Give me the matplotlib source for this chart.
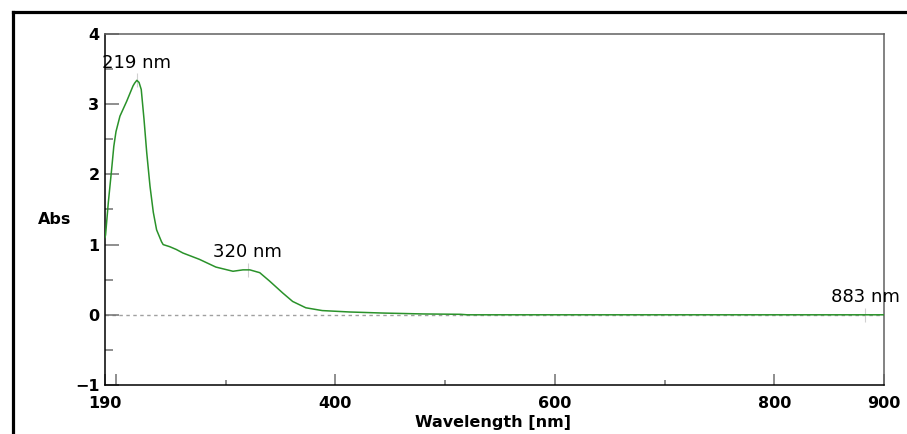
import matplotlib
matplotlib.use('Agg')
import matplotlib.pyplot as plt
from matplotlib.lines import Line2D

wavelength = [190, 190.5, 193, 196, 198, 200, 203.6, 209.7, 215.5, 217, 219, 221, 223,
              225.5, 228, 231, 234, 237, 241.5, 243, 249, 255, 261, 276, 291, 306.6,
              315.7, 322, 331, 340, 352, 361, 373, 388, 413, 443, 480, 514, 520,
              600, 700, 800, 900]
absorbance = [1.10, 1.14, 1.60, 2.07, 2.40, 2.61, 2.83, 3.04, 3.26, 3.30, 3.34, 3.31, 3.21,
              2.79, 2.31, 1.83, 1.46, 1.21, 1.04, 1.00, 0.97, 0.93, 0.88, 0.79, 0.68, 0.62,
              0.64, 0.64, 0.60, 0.48, 0.31, 0.19, 0.10, 0.06, 0.04, 0.025, 0.012, 0.007, 0.0,
              0.0, 0.0, 0.0, 0.0]

peak_nm = [219, 320, 883]
peak_abs = [3.34, 0.64, 0.0]
peak_labels = ['219 nm', '320 nm', '883 nm']

x_ticks = [190, 200, 400, 600, 800, 900]
x_ticklabels = ['190', '', '400', '600', '800', '900']
x_minor = [300, 500, 700]
y_ticks = [-1, 0, 1, 2, 3, 4]
y_ticklabels = ['\u22121', '0', '1', '2', '3', '4']
y_minor = [-0.5, 0.5, 1.5, 2.5, 3.5]

COR_LINHA = '#2a922a'
COR_TICK = '#707070'

fig = plt.figure(figsize=(9.07, 4.34), dpi=100, facecolor='white')
ax = fig.add_axes([0.1158, 0.1129, 0.8589, 0.8088])

# moldura externa (só topo e esquerda aparecem)
fig.add_artist(Line2D([0.0138, 1.0], [0.9712, 0.9712], transform=fig.transFigure,
                      color='black', lw=2.3))
fig.add_artist(Line2D([0.0138, 0.0138], [0.0, 0.9712], transform=fig.transFigure,
                      color='black', lw=2.3))

# linha do zero
ax.axhline(0, color='#a0a0a0', lw=1.0, linestyle=(0, (2.5, 2.5)), zorder=1)

# espectro
ax.plot(wavelength, absorbance, color=COR_LINHA, lw=1.1, zorder=3)

# marcadores e rótulos dos picos
ax.vlines(peak_nm, [v - 0.1 for v in peak_abs], [v + 0.1 for v in peak_abs],
          color='#d0d0d0', lw=0.8, zorder=2)
for nm, val, lab in zip(peak_nm, peak_abs, peak_labels):
    ax.text(nm, val + 0.25, lab, ha='center', va='center', fontsize=13,
            family='DejaVu Sans', color='black', clip_on=False, zorder=4)

ax.set_xlim(190, 900)
ax.set_ylim(-1, 4)

ax.set_xticks(x_ticks)
ax.set_xticklabels(x_ticklabels)
ax.set_xticks(x_minor, minor=True)
ax.set_yticks(y_ticks)
ax.set_yticklabels(y_ticklabels)
ax.set_yticks(y_minor, minor=True)

ax.tick_params(axis='x', which='major', direction='in', length=8, width=1.1,
               color=COR_TICK, pad=8)
ax.tick_params(axis='x', which='minor', direction='in', length=3.8, width=1.1,
               color=COR_TICK)
ax.tick_params(axis='y', which='major', direction='in', length=10, width=1.1,
               color=COR_TICK, pad=4)
ax.tick_params(axis='y', which='minor', direction='in', length=5.8, width=1.1,
               color=COR_TICK)

for lab in ax.get_xticklabels() + ax.get_yticklabels():
    lab.set_fontweight('bold')
    lab.set_fontsize(11.5)
    lab.set_family('DejaVu Sans')

ax.spines['left'].set_color('black')
ax.spines['bottom'].set_color('black')
ax.spines['top'].set_color('#606060')
ax.spines['right'].set_color('#606060')
for s in ax.spines.values():
    s.set_linewidth(1.1)

fig.text(55 / 907, 1 - 220 / 434, 'Abs', ha='center', va='center',
         fontsize=11.5, fontweight='bold', family='DejaVu Sans')
fig.text(493 / 907, 1 - 423 / 434, 'Wavelength [nm]', ha='center', va='center',
         fontsize=11.5, fontweight='bold', family='DejaVu Sans')

fig.savefig('out.png', dpi=100, facecolor='white')
